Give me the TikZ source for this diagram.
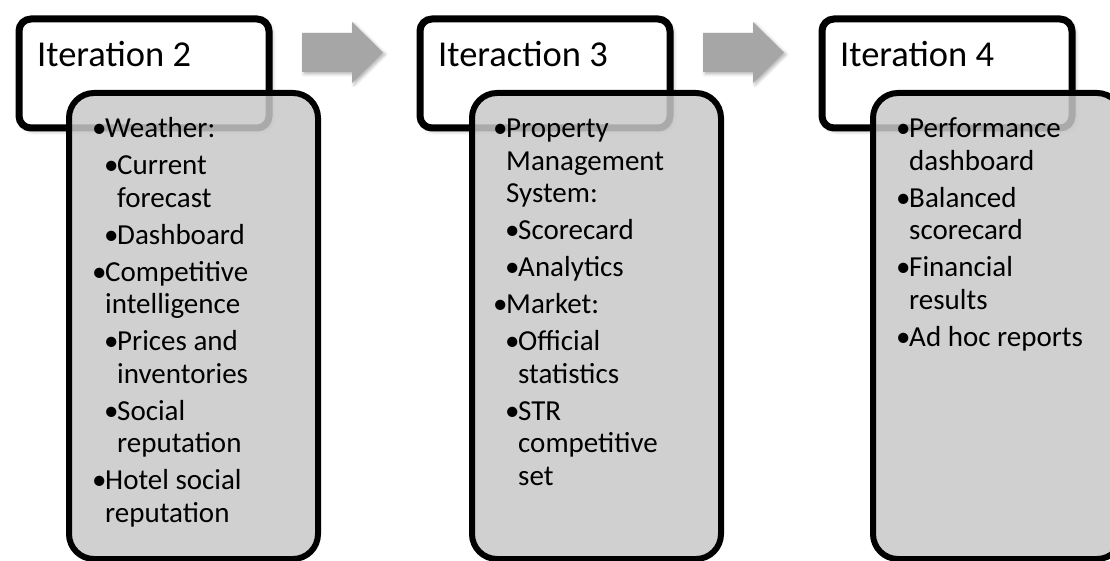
\documentclass[tikz,border=0pt]{standalone}
\usepackage{fontspec}
\setmainfont{Carlito}
\usetikzlibrary{shadows.blur}

\definecolor{panelgray}{RGB}{200,200,200}
\definecolor{arrowgray}{RGB}{166,166,166}

% bullet list helpers: first-level and second-level entries with hanging indent
\newcommand\lvlone[1]{\par\hangindent=13pt\hangafter=1\noindent\makebox[13pt][l]{\textbullet}#1}
\newcommand\lvltwo[1]{\par\hangindent=25pt\hangafter=1\noindent\hspace*{12pt}\makebox[13pt][l]{\textbullet}#1}
\newcommand\bodylist[1]{\parbox[t]{240pt}{\fontsize{29}{32.5}\selectfont\setlength\parskip{4.5pt}#1}}

\tikzset{
  header/.style={draw=black, line width=7pt, fill=white, rounded corners=12pt,
    minimum width=250pt, minimum height=109pt, anchor=north west, inner sep=0pt,
    blur shadow={shadow xshift=3pt, shadow yshift=-3pt, shadow blur radius=4pt, shadow opacity=35}},
  panel/.style={draw=black, line width=6pt, fill=panelgray, fill opacity=0.85,
    draw opacity=1, text opacity=1, rounded corners=25pt,
    minimum width=249pt, minimum height=466pt, anchor=north west, inner sep=0pt},
  headlabel/.style={anchor=base west, inner sep=0pt, font=\fontsize{36.5}{40}\selectfont},
  listtext/.style={anchor=base west, inner sep=0pt},
  arrowbody/.style={fill=arrowgray,
    blur shadow={shadow xshift=2pt, shadow yshift=-2pt, shadow blur radius=3pt, shadow opacity=30}},
  flow arrow/.pic={\path[arrowbody] (0,33) -- (50,33) -- (50,22) -- (81,52.5)
      -- (50,83) -- (50,72) -- (0,72) -- cycle;}
}

\begin{document}
\begin{tikzpicture}[x=1pt, y=-1pt]
  \clip (0,0) rectangle (1110,561);
  \useasboundingbox (0,0) rectangle (1110,561);

  % stage headers
  \node[header] (head2) at (15.5,15.5) {};
  \node[header] (head3) at (416.5,15.5) {};
  \node[header] (head4) at (818.5,15.5) {};
  \node[headlabel] (lab2) at (37,67) {Iteration 2};
  \node[headlabel] (lab3) at (438,67) {Iteraction 3};
  \node[headlabel] (lab4) at (840,67) {Iteration 4};

  % content panels
  \node[panel] (panel2) at (66,90) {};
  \node[panel] (panel3) at (469,90) {};
  \node[panel] (panel4) at (870,90) {};

  % block arrows between stages
  \pic at (302,0) {flow arrow};
  \pic at (703,0) {flow arrow};

  \node[listtext] (list2) at (92,138) {\bodylist{%
    \lvlone{Weather:}
    \lvltwo{Current\newline forecast}
    \lvltwo{Dashboard}
    \lvlone{Competitive\newline intelligence}
    \lvltwo{Prices and\newline inventories}
    \lvltwo{Social\newline reputation}
    \lvlone{Hotel social\newline reputation}}};

  \node[listtext] (list3) at (493,138) {\bodylist{%
    \lvlone{Property\newline Management\newline System:}
    \lvltwo{Scorecard}
    \lvltwo{Analytics}
    \lvlone{Market:}
    \lvltwo{Official\newline statistics}
    \lvltwo{STR\newline competitive\newline set}}};

  \node[listtext] (list4) at (896,138) {\bodylist{%
    \lvlone{Performance\newline dashboard}
    \lvlone{Balanced\newline scorecard}
    \lvlone{Financial\newline results}
    \lvlone{Ad hoc reports}}};
\end{tikzpicture}
\end{document}
